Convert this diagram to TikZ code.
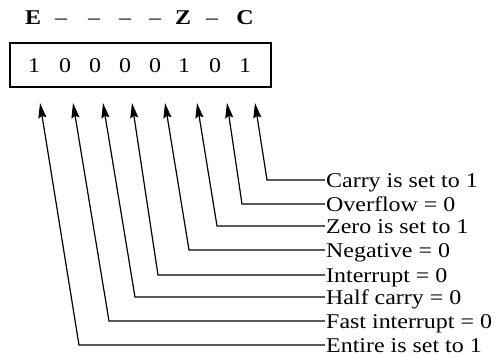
\documentclass[tikz,border=0pt]{standalone}
\usepackage{fontspec}
\newfontfamily\bookfont{Liberation Serif}[Ligatures=TeX,FakeStretch=1.14]
\usetikzlibrary{arrows.meta}
\tikzset{
  flagtxt/.style={font=\bookfont\fontsize{21}{25}\selectfont,inner sep=0pt,anchor=base},
  lbl/.style={font=\bookfont\fontsize{21}{25}\selectfont,anchor=west,inner sep=1pt,text height=14pt,text depth=0pt},
  flagline/.style={line width=1.2pt,-{Stealth[length=15pt,width=8pt,inset=2pt]}},
}
\begin{document}
\begin{tikzpicture}[x=1pt,y=1pt]
\useasboundingbox (0,0) rectangle (495,357);
% flag letters
\node[flagtxt] (fe) at (33,332) {\textbf{E}};
\node[flagtxt] (fd1) at (61,332) {--};
\node[flagtxt] (fd2) at (94,332) {--};
\node[flagtxt] (fd3) at (125,332) {--};
\node[flagtxt] (fd4) at (155,332) {--};
\node[flagtxt] (fz) at (183,332) {\textbf{Z}};
\node[flagtxt] (fd5) at (212,332) {--};
\node[flagtxt] (fc) at (245,332) {\textbf{C}};
% register
\draw[line width=1.6pt] (10,270) rectangle (271,314);
\node[flagtxt] (b1) at (34,284) {1};
\node[flagtxt] (b2) at (65,284) {0};
\node[flagtxt] (b3) at (95,284) {0};
\node[flagtxt] (b4) at (125,284) {0};
\node[flagtxt] (b5) at (155,284) {0};
\node[flagtxt] (b6) at (184,284) {1};
\node[flagtxt] (b7) at (215,284) {0};
\node[flagtxt] (b8) at (245,284) {1};
% arrow tips
\coordinate (t1) at (40,254);
\coordinate (t2) at (73,254);
\coordinate (t3) at (103,254);
\coordinate (t4) at (132,254);
\coordinate (t5) at (165,254);
\coordinate (t6) at (197,254);
\coordinate (t7) at (227,254);
\coordinate (t8) at (255,254);
% labels
\node[lbl] (l8) at (325,177) {Carry is set to 1};
\node[lbl] (l7) at (325,153) {Overflow = 0};
\node[lbl] (l6) at (325,131) {Zero is set to 1};
\node[lbl] (l5) at (325,107) {Negative = 0};
\node[lbl] (l4) at (325,82) {Interrupt = 0};
\node[lbl] (l3) at (325,60) {Half carry = 0};
\node[lbl] (l2) at (325,36) {Fast interrupt = 0};
\node[lbl] (l1) at (325,12) {Entire is set to 1};
% elbows
\coordinate (e8) at (267,177);
\coordinate (e7) at (242,153);
\coordinate (e6) at (217,131);
\coordinate (e5) at (189,107);
\coordinate (e4) at (158,82);
\coordinate (e3) at (135,60);
\coordinate (e2) at (109,36);
\coordinate (e1) at (79,12);
\draw[flagline] (l8.west) -- (e8) -- (t8);
\draw[flagline] (l7.west) -- (e7) -- (t7);
\draw[flagline] (l6.west) -- (e6) -- (t6);
\draw[flagline] (l5.west) -- (e5) -- (t5);
\draw[flagline] (l4.west) -- (e4) -- (t4);
\draw[flagline] (l3.west) -- (e3) -- (t3);
\draw[flagline] (l2.west) -- (e2) -- (t2);
\draw[flagline] (l1.west) -- (e1) -- (t1);
\end{tikzpicture}
\end{document}
